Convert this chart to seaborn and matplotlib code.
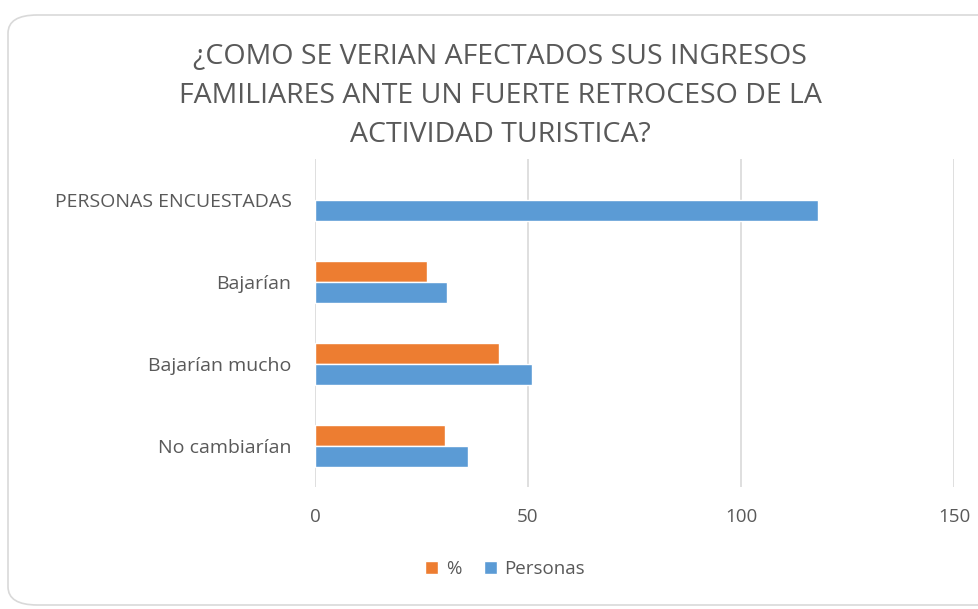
import pandas as pd
import numpy as np
import matplotlib
matplotlib.use("Agg")
import matplotlib.pyplot as plt
import seaborn as sns
from matplotlib.patches import FancyBboxPatch

# data
categorias = ["PERSONAS ENCUESTADAS", "Bajarían", "Bajarían mucho", "No cambiarían"]
porcentaje = [np.nan, 26.3, 43.2, 30.5]
personas = [118, 31, 51, 36]
series = ["%", "Personas"]
titulo = "¿COMO SE VERIAN AFECTADOS SUS INGRESOS\nFAMILIARES ANTE UN FUERTE RETROCESO DE LA\nACTIVIDAD TURISTICA?"

df = pd.DataFrame({
    "categoria": categorias * 2,
    "serie": [series[0]] * 4 + [series[1]] * 4,
    "valor": porcentaje + personas,
})

sns.set_theme(style="white")
plt.rcParams["font.family"] = ["Open Sans", "DejaVu Sans"]
gray = "#595959"

fig = plt.figure(figsize=(9.79, 6.09), dpi=100)
fig.patch.set_facecolor("white")

# rounded chart border
box = FancyBboxPatch((8 / 979, 4 / 609), 1.2, 590 / 609,
                     boxstyle="round,pad=0,rounding_size=0.03",
                     transform=fig.transFigure, facecolor="none",
                     edgecolor="#d9d9d9", linewidth=1.2, zorder=-1)
fig.patches.append(box)

ax = fig.add_axes([315 / 979, 1 - 487 / 609, (954 - 315) / 979, (487 - 159) / 609])
ax.set_facecolor("none")

sns.barplot(data=df, y="categoria", x="valor", hue="serie", hue_order=series,
            order=categorias, palette=["#ed7d31", "#5b9bd5"], width=0.51,
            orient="h", ax=ax, saturation=1, legend=True)

ax.set_xlim(0, 150)
ax.set_xticks([0, 50, 100, 150])
ax.grid(axis="x", color="#d9d9d9", linewidth=1.2)
ax.set_axisbelow(True)
for s in ax.spines.values():
    s.set_visible(False)
ax.set_xlabel("")
ax.set_ylabel("")
ax.tick_params(axis="x", colors=gray, labelsize=13.5, pad=15, length=0)
ax.tick_params(axis="y", colors=gray, labelsize=14, pad=17, length=0)

ax.set_title(titulo, color=gray, fontsize=20.5, linespacing=1.55, pad=12,
             x=(500 - 315) / (954 - 315))

handles, labels = ax.get_legend_handles_labels()
ax.legend_.remove()
fig.legend(handles, labels, loc="center", bbox_to_anchor=(505 / 979, 1 - 569 / 609),
           ncol=2, frameon=False, fontsize=13.5, labelcolor=gray,
           handlelength=0.7, handleheight=0.7, handletextpad=0.4, columnspacing=1.2)

fig.savefig("out.png", dpi=100)
